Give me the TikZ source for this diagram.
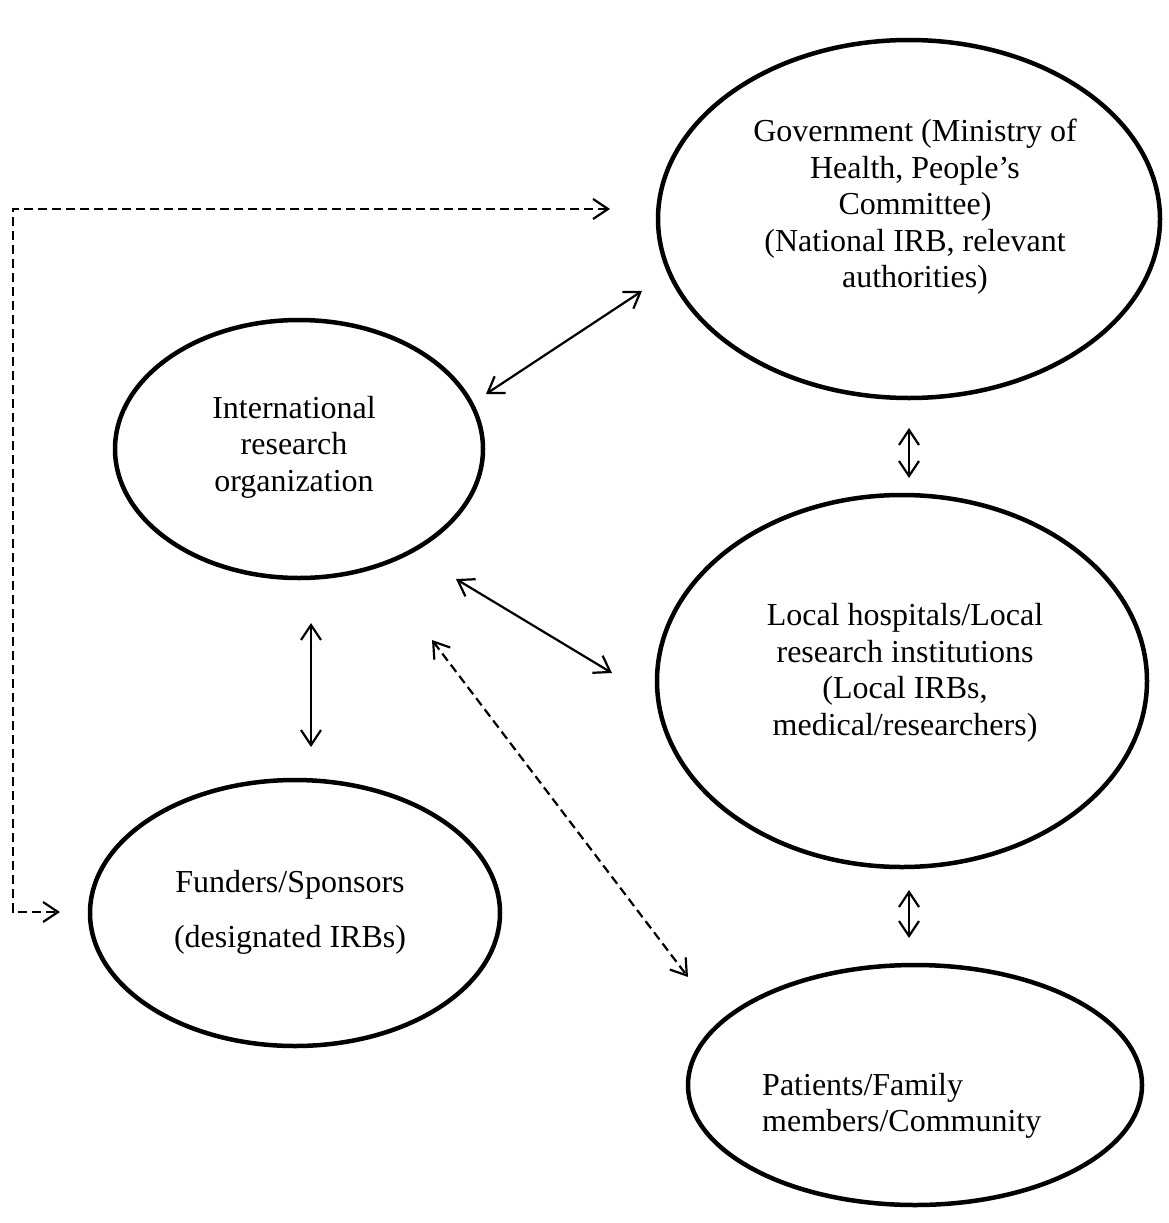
\documentclass[tikz,border=0pt]{standalone}
\usepackage{fontspec}
\setmainfont{Liberation Serif}
\usetikzlibrary{shapes.geometric,arrows.meta}
\begin{document}
\begin{tikzpicture}[x=1pt,y=-1pt,
  party/.style={draw, ellipse, line width=4.5pt, inner sep=0pt, outer sep=0pt},
  txt/.style={font=\fontsize{32}{36.5}\selectfont, align=center, inner sep=0pt},
  link/.style={line width=2.2pt, {Straight Barb[length=15pt,width=20pt]}-{Straight Barb[length=15pt,width=20pt]}},
  dlink/.style={link, dash pattern=on 9pt off 5pt}
]
\useasboundingbox (0,0) rectangle (1168,1223);

% stakeholders
\node[party, minimum width=502pt, minimum height=358pt] (gov) at (909,219) {};
\node[party, minimum width=368pt, minimum height=258pt] (intl) at (299,449) {};
\node[party, minimum width=490pt, minimum height=372pt] (local) at (902,681) {};
\node[party, minimum width=410pt, minimum height=266pt] (fund) at (295,913) {};
\node[party, minimum width=454pt, minimum height=240pt] (pat) at (915,1085) {};

\node[txt] (govtxt) at (915,207) {Government (Ministry of\\Health, People’s\\Committee)\\(National IRB, relevant\\authorities)};
\node[txt] (intltxt) at (294,447) {International\\research\\organization};
\node[txt] (localtxt) at (905,673) {Local hospitals/Local\\research institutions\\(Local IRBs,\\medical/researchers)};
\node[txt] (fundtxt) at (290,912) {Funders/Sponsors\\[18.5pt](designated IRBs)};
\node[txt, align=left, anchor=west] (pattxt) at (762,1106) {Patients/Family\\members/Community};

% connector ends
\coordinate (gA) at (642,291);  \coordinate (iA) at (486,394);
\coordinate (gB) at (909,428);  \coordinate (lB) at (909,478);
\coordinate (iC) at (311,623);  \coordinate (fC) at (311,747);
\coordinate (iD) at (456,579);  \coordinate (lD) at (612,673);
\coordinate (iE) at (432,640);  \coordinate (pE) at (688,977);
\coordinate (lF) at (909,890);  \coordinate (pF) at (909,938);
\coordinate (gG) at (610,209);  \coordinate (fG) at (60,912);
\coordinate (elbow) at (13,209);

% connectors
\draw[link] (iA) -- (gA);
\draw[link] (gB) -- (lB);
\draw[link] (iC) -- (fC);
\draw[link] (iD) -- (lD);
\draw[dlink] (iE) -- (pE);
\draw[link] (lF) -- (pF);
\draw[dlink] (gG) -- (elbow) |- (fG);
\end{tikzpicture}
\end{document}
